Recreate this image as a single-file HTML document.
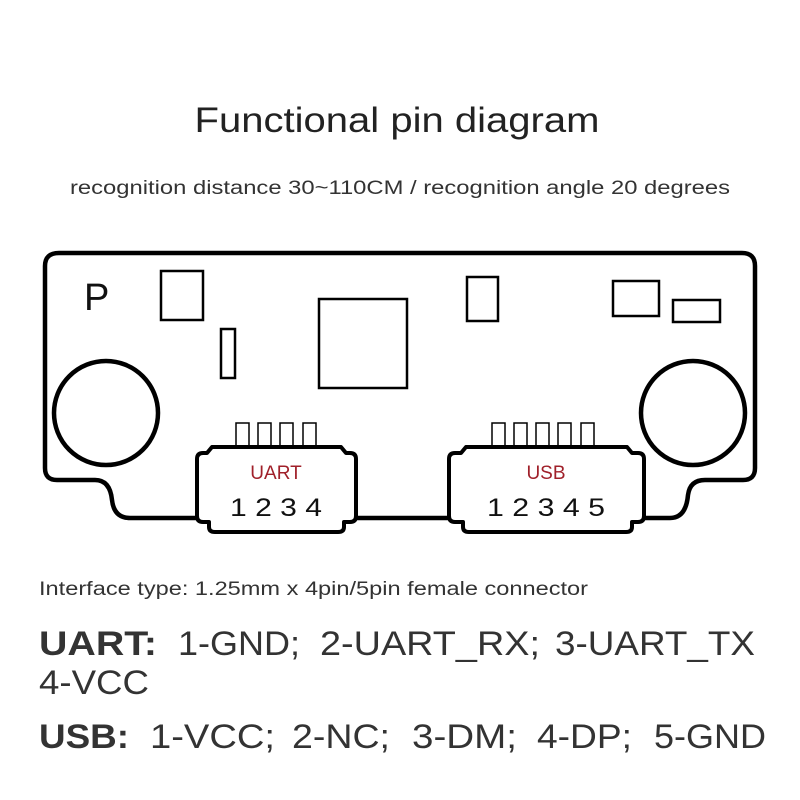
<!DOCTYPE html>
<html><head><style>body{margin:0;background:#fff}svg{display:block}</style></head><body>
<svg width="800" height="800" viewBox="0 0 800 800" xmlns="http://www.w3.org/2000/svg" font-family="Liberation Sans, DejaVu Sans, sans-serif">
<rect width="800" height="800" fill="#fff"/>
<text x="397" y="132" font-size="35" fill="#222" text-anchor="middle" textLength="405" lengthAdjust="spacingAndGlyphs">Functional pin diagram</text>
<text x="400" y="194" font-size="19" fill="#333" text-anchor="middle" textLength="660" lengthAdjust="spacingAndGlyphs">recognition distance 30~110CM / recognition angle 20 degrees</text>
<g fill="none" stroke="#000" stroke-width="4.5" stroke-linejoin="round">
<path d="M59 253 H742 Q755 253 755 266 V468 Q755 480 743 480 H705 Q690 480 688 495 Q686 518 670 518 H130 Q114 518 112 500 Q110 480 95 480 H57 Q45 480 45 468 V266 Q45 253 59 253 Z" fill="#fff"/>
<circle cx="106" cy="413" r="52"/>
<circle cx="693" cy="413" r="52"/>
</g>
<g fill="none" stroke="#000" stroke-width="2.5">
<rect x="161" y="271" width="42" height="49"/>
<rect x="221" y="329" width="14" height="49"/>
<rect x="319" y="299" width="88" height="89"/>
<rect x="467" y="277" width="31" height="44"/>
<rect x="613" y="281" width="46" height="35"/>
<rect x="673" y="300" width="47" height="22"/>
</g>
<g fill="none" stroke="#000" stroke-width="1.5">
<rect x="236" y="423" width="13" height="23"/><rect x="258" y="423" width="13" height="23"/><rect x="280" y="423" width="13" height="23"/><rect x="303" y="423" width="13" height="23"/>
<rect x="492" y="423" width="13" height="23"/><rect x="514" y="423" width="13" height="23"/><rect x="536" y="423" width="13" height="23"/><rect x="558" y="423" width="13" height="23"/><rect x="581" y="423" width="13" height="23"/>
</g>
<g fill="#fff" stroke="#000" stroke-width="4" stroke-linejoin="round">
<path d="M212 447 H341 L346 453 H350 Q356 453 356 459 V516 Q356 522 350 522 H344 V527 Q344 532 338 532 H215 Q209 532 209 527 V522 H203 Q197 522 197 516 V459 Q197 453 203 453 H207 Z"/>
<path d="M466 447 H627 L632 453 H638 Q644 453 644 459 V516 Q644 522 638 522 H632 V527 Q632 532 626 532 H469 Q463 532 463 527 V522 H455 Q449 522 449 516 V459 Q449 453 455 453 H461 Z"/>
</g>
<text x="84" y="310" font-size="38" fill="#111">P</text>
<text x="276" y="479" font-size="19" fill="#a0202a" text-anchor="middle">UART</text>
<text x="546" y="479" font-size="19" fill="#a0202a" text-anchor="middle">USB</text>
<text x="276" y="516" font-size="25" fill="#111" text-anchor="middle" textLength="92" lengthAdjust="spacingAndGlyphs">1 2 3 4</text>
<text x="546" y="516" font-size="25" fill="#111" text-anchor="middle" textLength="118" lengthAdjust="spacingAndGlyphs">1 2 3 4 5</text>
<text x="39" y="595" font-size="19" fill="#333" textLength="549" lengthAdjust="spacingAndGlyphs">Interface type: 1.25mm x 4pin/5pin female connector</text>
<g font-size="34" fill="#333">
<text x="39" y="655" font-weight="bold" textLength="118" lengthAdjust="spacingAndGlyphs">UART:</text>
<text x="178" y="655" textLength="122" lengthAdjust="spacingAndGlyphs">1-GND;</text>
<text x="320" y="655" textLength="220" lengthAdjust="spacingAndGlyphs">2-UART_RX;</text>
<text x="555" y="655" textLength="200" lengthAdjust="spacingAndGlyphs">3-UART_TX</text>
<text x="39" y="694" textLength="110" lengthAdjust="spacingAndGlyphs">4-VCC</text>
<text x="39" y="748" font-weight="bold" textLength="90" lengthAdjust="spacingAndGlyphs">USB:</text>
<text x="150" y="748" textLength="125" lengthAdjust="spacingAndGlyphs">1-VCC;</text>
<text x="292" y="748" textLength="98" lengthAdjust="spacingAndGlyphs">2-NC;</text>
<text x="412" y="748" textLength="105" lengthAdjust="spacingAndGlyphs">3-DM;</text>
<text x="537" y="748" textLength="95" lengthAdjust="spacingAndGlyphs">4-DP;</text>
<text x="654" y="748" textLength="112" lengthAdjust="spacingAndGlyphs">5-GND</text>
</g>
</svg>
</body></html>
